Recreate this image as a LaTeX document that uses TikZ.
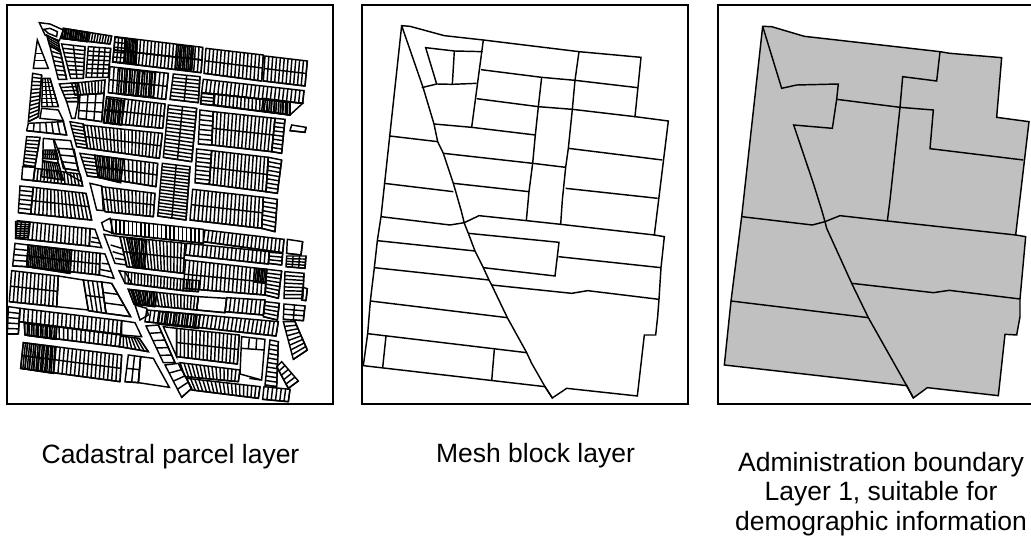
\documentclass[tikz,border=0pt]{standalone}
\usepackage{fontspec}
\setmainfont{Liberation Sans}
\usetikzlibrary{calc}
\definecolor{admingray}{HTML}{C0C0C0}
\tikzset{
  frame/.style={draw=black,line width=1.4pt},
  par/.style={draw=black,line width=1.45pt,line join=miter},
  edge/.style={draw=black,line width=1.45pt,line join=miter},
  caption/.style={font=\fontsize{26.5}{29.5}\selectfont,align=center,text=black,inner sep=0pt},
  zoomed/.style={shift={(#1,0)},x=0.33333pt,y=-0.33333pt}
}
% quadrilateral A B C D cut into n slices (A-B direction) and m rows (A-D direction)
\newcommand{\blk}[6]{%
  \coordinate (qa) at (#1);\coordinate (qb) at (#2);\coordinate (qc) at (#3);\coordinate (qd) at (#4);
  \draw[par] (qa)--(qb)--(qc)--(qd)--cycle;
  \foreach \i in {1,...,#5}{\pgfmathsetmacro\tt{\i/#5}\draw[par] ($(qa)!\tt!(qb)$)--($(qd)!\tt!(qc)$);}
  \foreach \i in {1,...,#6}{\pgfmathsetmacro\tt{\i/#6}\draw[par] ($(qa)!\tt!(qd)$)--($(qb)!\tt!(qc)$);}
}
\begin{document}
\begin{tikzpicture}[x=1pt,y=-1pt]
\useasboundingbox (0,0) rectangle (1031,537);
\fill[white] (0,0) rectangle (1031,537);
\draw[frame] (7,5) rectangle (333,404);
\draw[frame] (362,5) rectangle (688,404);
\draw[frame] (1031,5)--(718,5)--(718,404)--(1031,404);

% ---- cadastral parcels ----
\begin{scope}[zoomed=0]
\draw[par] (118,68)--(150,72)--(190,90)--(178,122)--(135,105)--cycle;
\draw[par] (132,88)--(150,85)--(172,95)--(170,110)--(145,100)--cycle;
\blk{140,105}{175,125}{180,155}{148,135}{1}{4}
\blk{150,140}{180,150}{200,238}{175,238}{1}{7}
\blk{190,85}{335,108}{330,132}{185,115}{18}{1}
\blk{190,85}{265,97}{262,125}{185,115}{14}{1}
\blk{345,110}{608,142}{606,180}{342,150}{24}{1}
\blk{342,150}{606,180}{603,218}{338,186}{24}{1}
\blk{375,115}{412,120}{408,192}{372,185}{8}{2}
\blk{345,112}{378,116}{372,188}{338,186}{1}{5}
\blk{530,135}{580,140}{575,210}{525,205}{9}{2}
\blk{618,145}{790,165}{785,243}{612,220}{15}{2}
\blk{795,168}{922,183}{915,258}{790,243}{11}{2}
\blk{610,238}{912,272}{908,310}{605,278}{25}{1}
\draw[par] (605,278)--(908,310)--(870,345)--(602,312)--cycle;
\blk{645,282}{870,308}{870,345}{642,315}{20}{1}
\blk{605,280}{642,284}{640,315}{602,312}{1}{3}
\blk{790,295}{870,305}{870,345}{785,332}{12}{1}
\blk{875,375}{918,382}{915,397}{870,392}{1}{1}
\blk{600,330}{640,335}{635,435}{595,432}{1}{7}
\blk{640,335}{825,355}{815,455}{635,435}{16}{2}
\blk{825,355}{855,358}{845,460}{815,455}{1}{8}
\blk{590,447}{635,452}{628,553}{585,548}{1}{8}
\blk{635,452}{805,472}{798,575}{628,553}{15}{2}
\blk{805,472}{845,480}{832,580}{798,575}{1}{8}
\blk{578,568}{790,592}{785,685}{570,660}{18}{2}
\blk{790,592}{832,598}{825,695}{785,685}{1}{7}
\blk{520,222}{600,230}{595,308}{510,298}{2}{7}
\blk{505,315}{590,325}{575,485}{490,472}{2}{14}
\blk{487,490}{570,500}{558,660}{473,648}{2}{16}
\blk{330,200}{505,220}{497,298}{325,278}{14}{2}
\blk{360,205}{465,218}{460,292}{355,282}{14}{2}
\blk{320,290}{495,312}{488,385}{310,368}{16}{2}
\blk{320,295}{370,302}{365,375}{312,368}{8}{2}
\blk{210,365}{250,372}{262,445}{230,440}{1}{7}
\blk{250,375}{487,400}{478,475}{262,445}{21}{2}
\blk{240,460}{285,466}{295,532}{262,528}{1}{6}
\blk{285,466}{473,490}{468,560}{295,532}{15}{2}
\blk{285,466}{370,478}{362,548}{295,532}{12}{2}
\draw[par] (270,550)--(305,558)--(310,632)--(290,630)--cycle;
\blk{305,560}{465,580}{460,650}{315,635}{14}{2}
% left of the diagonal
\blk{185,132}{255,140}{250,235}{212,235}{2}{8}
\blk{265,140}{332,145}{325,232}{258,232}{4}{7}
\blk{215,250}{315,240}{312,280}{225,285}{10}{1}
\blk{178,252}{232,248}{235,305}{200,305}{1}{5}
\draw[par] (200,305)--(235,305)--(225,355)--(215,355)--cycle;
\blk{240,285}{312,280}{305,365}{235,355}{3}{3}
\draw[par] (112,120)--(145,205)--(100,205)--cycle;
\draw[par] (104,160)--(128,160) (102,182)--(135,182);
\blk{98,220}{125,225}{115,350}{85,365}{1}{12}
\blk{128,235}{150,235}{175,320}{125,320}{3}{7}
\draw[par] (125,325)--(175,330)--(190,362)--(120,355)--cycle;
\blk{85,370}{190,365}{200,405}{80,392}{6}{1}
\blk{80,410}{120,412}{105,500}{70,495}{1}{8}
\draw[par] (130,415)--(160,418)--(175,490)--(128,482)--cycle;
\blk{132,450}{168,450}{175,478}{128,475}{7}{2}
\draw[par] (162,418)--(212,422)--(245,545)--(200,520)--cycle;
\blk{175,445}{222,448}{235,512}{190,505}{1}{3}
\blk{68,500}{105,502}{100,542}{65,538}{1}{1}
\blk{105,505}{240,522}{248,558}{100,542}{14}{1}
\blk{128,485}{175,490}{190,540}{125,530}{8}{2}
\blk{60,558}{100,562}{92,642}{55,638}{1}{6}
\blk{100,562}{258,580}{275,660}{92,642}{15}{2}
% lower half
\blk{52,662}{270,686}{268,738}{47,715}{18}{1}
\draw[par] (270,686)--(285,688)--(305,743)--(268,738)--cycle;
\draw[par] (275,712)--(296,716) (272,725)--(302,730);
\blk{47,665}{90,668}{85,712}{47,715}{1}{7}
\blk{45,730}{85,735}{80,800}{38,798}{1}{4}
\blk{85,735}{300,760}{298,825}{80,800}{20}{2}
\blk{85,735}{215,750}{210,820}{80,800}{24}{2}
\draw[par] (300,760)--(315,762)--(342,835)--(298,825)--cycle;
\draw[par] (305,790)--(325,792) (298,808)--(335,815);
\blk{35,812}{175,828}{170,920}{28,905}{12}{2}
\draw[par] (175,828)--(250,840)--(265,930)--(170,920)--cycle;
\blk{250,840}{305,846}{318,940}{265,932}{4}{2}
\blk{305,846}{335,850}{392,950}{318,940}{1}{3}
\blk{25,920}{60,925}{55,1002}{22,1002}{1}{5}
\blk{60,925}{365,962}{362,1003}{58,965}{24}{1}
\blk{72,968}{362,1005}{358,1040}{75,1005}{22}{1}
\blk{75,970}{170,982}{168,1018}{75,1005}{14}{1}
\blk{362,1008}{418,1015}{445,1055}{358,1040}{7}{1}
\draw[par] (365,962)--(405,968)--(425,1010)--(365,1005)--cycle;
\blk{70,1028}{365,1065}{360,1145}{62,1105}{24}{2}
\blk{70,1028}{165,1040}{160,1120}{62,1105}{15}{2}
\blk{385,1065}{422,1070}{415,1148}{375,1145}{2}{2}
\draw[par] (422,1070)--(460,1075)--(508,1162)--(415,1148)--cycle;
% right of the diagonal
\draw[par] (305,668)--(330,655)--(340,700)--(312,690)--cycle;
\blk{335,658}{610,688}{610,730}{335,700}{22}{1}
\blk{615,690}{852,718}{848,758}{610,725}{20}{1}
\blk{560,730}{808,755}{805,792}{556,765}{20}{1}
\blk{808,757}{848,760}{845,795}{805,790}{1}{3}
\blk{360,710}{555,730}{550,820}{380,800}{18}{2}
\blk{380,715}{440,722}{432,805}{400,802}{8}{2}
\draw[par] (312,703)--(360,710)--(380,795)--(345,790)--cycle;
\draw[par] (332,735)--(365,745) (338,755)--(372,765) (345,775)--(378,780);
\blk{557,780}{800,808}{795,885}{550,865}{20}{2}
\blk{765,805}{800,808}{795,850}{760,845}{7}{1}
\blk{800,808}{845,813}{835,895}{795,885}{1}{7}
\draw[par] (357,812)--(375,815)--(395,850)--(375,850)--cycle;
\blk{375,815}{552,838}{550,872}{375,850}{18}{1}
\blk{550,838}{598,842}{595,875}{550,872}{5}{1}
\blk{385,868}{595,890}{590,930}{402,912}{20}{1}
\blk{385,868}{470,878}{465,920}{402,912}{12}{1}
\blk{595,890}{680,895}{675,938}{590,930}{1}{1}
\blk{680,893}{795,900}{790,945}{675,935}{9}{1}
\blk{795,905}{838,910}{832,960}{790,950}{1}{4}
\blk{440,930}{835,965}{828,1008}{435,965}{32}{1}
\blk{480,935}{600,945}{595,985}{475,972}{14}{1}
\draw[par] (405,915)--(440,925)--(445,945)--(420,960)--cycle;
\blk{438,978}{475,975}{525,1088}{490,1088}{1}{5}
\draw[par] (490,980)--(530,985)--(530,1070)--cycle;
\blk{530,985}{718,1005}{712,1092}{530,1070}{16}{2}
\blk{495,1095}{535,1090}{575,1165}{545,1192}{1}{4}
\blk{540,1088}{720,1110}{715,1145}{555,1130}{15}{1}
\blk{560,1135}{780,1160}{775,1195}{575,1170}{18}{1}
\draw[par] (725,1010)--(795,1018)--(785,1140)--(720,1122)--cycle;
\draw[par] (725,1045)--(792,1050) (748,1015)--(745,1048) (770,1016)--(768,1050) (748,1135)--(782,1140);
\blk{810,1020}{835,1025}{830,1160}{795,1155}{1}{10}
\blk{792,1160}{870,1168}{865,1205}{788,1198}{6}{1}
\blk{862,718}{908,725}{903,765}{860,760}{1}{1}
\blk{860,768}{918,768}{915,805}{858,800}{3}{4}
\blk{855,815}{912,820}{908,895}{852,895}{1}{7}
\blk{908,862}{922,866}{918,902}{905,900}{1}{1}
\blk{852,912}{915,918}{910,962}{850,958}{2}{3}
\blk{850,965}{885,965}{922,1050}{880,1078}{1}{8}
\blk{845,1085}{895,1143}{865,1165}{830,1100}{5}{1}
\end{scope}

% ---- mesh block layer ----
\begin{scope}[zoomed=355]
\draw[edge] (140,77)--(165,79)--(268,107)--(385,120)--(672,155)--(858,172)--(840,350)--(940,363)--(898,705)--(928,710)--(918,803)--(912,898)--(908,950)--(902,1005)--(868,1005)--(847,1188)--(635,1165)--(592,1194)--(570,1160)--(25,1097)--(38,1001)--(46,903)--(58,803)--(67,722)--(78,650)--cycle;
\draw[edge] (140,77)--(205,265)--(237,372)--(248,425)--(265,460)--(295,550)--(318,630)--(328,670)--(340,700)--(360,753)--(385,803)--(402,840)--(410,855)--(457,953)--(515,1058)--(530,1090)--(570,1160)--(592,1194);
\draw[edge] (245,252)--(212,143)--(298,153)--(383,155);
\draw[edge] (200,263)--(245,252)--(292,253)--(365,250);
\draw[edge] (298,153)--(292,253);
\draw[edge] (385,120)--(350,382);
\draw[edge] (378,209)--(560,232)--(660,241)--(848,263);
\draw[edge] (365,296)--(550,320)--(652,328)--(840,350);
\draw[edge] (237,372)--(350,382)--(541,405);
\draw[edge] (672,155)--(660,241)--(652,328)--(640,445)--(632,502)--(622,600)--(617,673);
\draw[edge] (560,232)--(550,320)--(541,405)--(533,490)--(522,575)--(514,662);
\draw[edge] (104,408)--(248,425);
\draw[edge] (265,460)--(533,490)--(632,502);
\draw[edge] (640,445)--(922,480);
\draw[edge] (87,550)--(295,575);
\draw[edge] (295,550)--(522,575);
\draw[edge] (632,565)--(908,595);
\draw[edge] (78,650)--(285,675)--(328,668)--(372,647)--(515,662)--(617,673)--(898,705);
\draw[edge] (340,700)--(612,727)--(600,828)--(385,803);
\draw[edge] (67,722)--(360,753);
\draw[edge] (610,770)--(918,803);
\draw[edge] (58,803)--(402,840);
\draw[edge] (410,855)--(650,880)--(698,872)--(912,898);
\draw[edge] (46,903)--(457,953);
\draw[edge] (38,1001)--(515,1058);
\draw[edge] (93,1008)--(83,1103);
\draw[edge] (418,1048)--(410,1143);
\end{scope}

% ---- administration boundary layer ----
\begin{scope}[zoomed=705]
\draw[edge,fill=admingray] (173,79)--(200,80)--(298,109)--(705,155)--(735,160)--(890,173)--(875,352)--(972,365)--(932,705)--(962,710)--(945,897)--(945,950)--(935,1005)--(900,1003)--(880,1187)--(667,1163)--(625,1194)--(605,1157)--(58,1095)--(78,903)--(110,650)--cycle;
\draw[edge] (173,79)--(230,265)--(275,255)--(400,252)--(395,298)--(382,385)--(266,375)--(325,550)--(350,630)--(360,665)--(365,685)--(440,850)--(490,953)--(605,1157)--(625,1194);
\draw[edge] (705,155)--(695,243)--(593,230)--(585,322)--(555,600)--(547,663);
\draw[edge] (395,298)--(585,322)--(685,330)--(675,446)--(955,480);
\draw[edge] (110,650)--(322,675)--(360,665)--(405,647)--(547,663)--(932,705);
\draw[edge] (440,850)--(685,878)--(733,871)--(945,897);
\draw[edge] (78,903)--(490,953);
\end{scope}

\node[caption,anchor=base] (c1) at (170.5,463) {Cadastral parcel layer};
\node[caption,anchor=base] (c2) at (535.5,462) {Mesh block layer};
\node[caption] (c3) at (881,494) {Administration boundary\\Layer 1, suitable for\\demographic information};
\end{tikzpicture}
\end{document}
